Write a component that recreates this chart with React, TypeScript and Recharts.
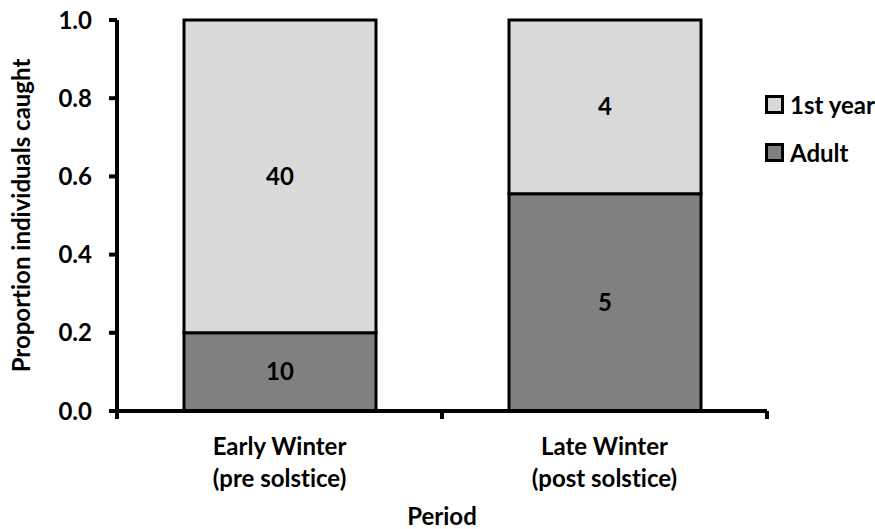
import { Bar, BarChart, LabelList, XAxis, YAxis } from "recharts";

const periods = ["Early Winter", "Late Winter"];
const periodNotes = ["(pre solstice)", "(post solstice)"];
const adultCounts = [10, 5];
const firstYearCounts = [40, 4];
const yTicks = [0, 0.2, 0.4, 0.6, 0.8, 1.0];
const legendItems = [
  { name: "1st year", fill: "#d9d9d9" },
  { name: "Adult", fill: "#808080" },
];

const rows = periods.map((period, i) => {
  const total = adultCounts[i] + firstYearCounts[i];
  return {
    period,
    adult: adultCounts[i] / total,
    firstYear: firstYearCounts[i] / total,
    adultN: adultCounts[i],
    firstYearN: firstYearCounts[i],
  };
});

const FONT = "Lato, 'Noto Sans', sans-serif";
const SIZE = 24;
const PLOT_W = 650;
const BAND = PLOT_W / periods.length;

function PeriodTick(props: any) {
  const { x, y, payload, index } = props;
  const half = BAND / 2;
  return (
    <g>
      <line x1={x - half} x2={x - half} y1={y} y2={y + 8} stroke="#000" strokeWidth={4} />
      {index === periods.length - 1 && (
        <line x1={x + half} x2={x + half} y1={y} y2={y + 8} stroke="#000" strokeWidth={4} />
      )}
      <text x={x} y={y} textAnchor="middle" fill="#000" fontSize={SIZE} fontWeight={700}>
        <tspan x={x} dy={44}>{payload.value}</tspan>
        <tspan x={x} dy={32}>{periodNotes[index]}</tspan>
      </text>
    </g>
  );
}

function LegendBox() {
  return (
    <div style={{ position: "absolute", left: 765, top: 80 }}>
      {legendItems.map((it) => (
        <div key={it.name} style={{ display: "flex", alignItems: "center", height: 48 }}>
          <span
            style={{
              width: 13,
              height: 13,
              background: it.fill,
              border: "3px solid #000",
              marginRight: 6,
            }}
          />
          <span style={{ fontSize: SIZE, fontWeight: 700, color: "#000" }}>{it.name}</span>
        </div>
      ))}
    </div>
  );
}

export default function App() {
  return (
    <div
      style={{
        position: "absolute",
        left: 0,
        top: 0,
        width: 875,
        height: 529,
        fontFamily: FONT,
        fontVariantLigatures: "none",
        background: "#fff",
      }}
    >
      <BarChart
        width={875}
        height={529}
        data={rows}
        margin={{ top: 20, right: 108, bottom: 0, left: 0 }}
        barCategoryGap={0}
      >
        <XAxis
          dataKey="period"
          height={118}
          axisLine={{ stroke: "#000", strokeWidth: 4 }}
          tickLine={false}
          tickSize={0}
          tickMargin={0}
          tick={<PeriodTick />}
          interval={0}
          label={{
            value: "Period",
            position: "insideBottom",
            offset: 4,
            fill: "#000",
            fontSize: SIZE,
            fontWeight: 700,
          }}
        />
        <YAxis
          width={117}
          domain={[0, 1]}
          ticks={yTicks}
          tickFormatter={(v: number) => v.toFixed(1)}
          axisLine={{ stroke: "#000", strokeWidth: 4 }}
          tickLine={{ stroke: "#000", strokeWidth: 4 }}
          tickSize={8}
          tickMargin={17}
          tick={{ fill: "#000", fontSize: SIZE, fontWeight: 700 }}
          label={{
            value: "Proportion individuals caught",
            angle: -90,
            position: "insideLeft",
            offset: 21,
            style: { textAnchor: "middle" },
            fill: "#000",
            fontSize: SIZE,
            fontWeight: 700,
          }}
        />
        <Bar
          dataKey="adult"
          name="Adult"
          stackId="a"
          fill="#808080"
          stroke="#000"
          strokeWidth={3}
          barSize={192}
          isAnimationActive={false}
        >
          <LabelList dataKey="adultN" position="center" fill="#000" fontSize={SIZE} fontWeight={700} />
        </Bar>
        <Bar
          dataKey="firstYear"
          name="1st year"
          stackId="a"
          fill="#d9d9d9"
          stroke="#000"
          strokeWidth={3}
          barSize={192}
          isAnimationActive={false}
        >
          <LabelList dataKey="firstYearN" position="center" fill="#000" fontSize={SIZE} fontWeight={700} />
        </Bar>
      </BarChart>
      <LegendBox />
    </div>
  );
}
